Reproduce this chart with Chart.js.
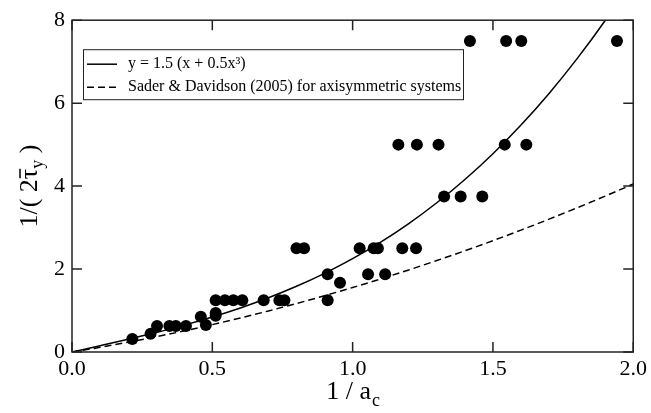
<!DOCTYPE html>
<html>
<head>
<meta charset="utf-8">
<script src="https://cdn.jsdelivr.net/npm/chart.js@4"></script>
<style>
  body { margin: 0; background: #fff; }
  #wrap { width: 651px; height: 413px; }
</style>
</head>
<body>
<div id="wrap"><canvas id="yieldChart"></canvas></div>
<script>
// Measured points: 1/a_c against 1/(2 tau_y)
const pointX = [0.215, 0.28, 0.303, 0.347, 0.37, 0.406, 0.459, 0.477, 0.512, 0.512,
                0.512, 0.545, 0.575, 0.607, 0.683, 0.739, 0.757, 0.80, 0.827, 0.911,
                0.911, 0.955, 1.025, 1.075, 1.09, 1.055, 1.116, 1.177, 1.226, 1.163,
                1.229, 1.306, 1.542, 1.619, 1.326, 1.385, 1.462, 1.418, 1.547, 1.601,
                1.942];
const pointY = [0.3125, 0.4375, 0.625, 0.625, 0.625, 0.625, 0.85, 0.65, 0.875, 0.9375,
                1.25, 1.25, 1.25, 1.25, 1.25, 1.25, 1.25, 2.5, 2.5, 1.875,
                1.25, 1.667, 2.5, 2.5, 2.5, 1.875, 1.875, 2.5, 2.5, 5,
                5, 5, 5, 5, 3.75, 3.75, 3.75, 7.5, 7.5, 7.5,
                7.5];

// Curve samples along x
const curveX = [0, 0.1, 0.2, 0.3, 0.4, 0.5, 0.6, 0.7, 0.8, 0.9, 1.0,
                1.1, 1.2, 1.3, 1.4, 1.5, 1.6, 1.7, 1.8, 1.9, 2.0];
const fitY = [0, 0.151, 0.306, 0.470, 0.648, 0.844, 1.062, 1.307, 1.584, 1.897, 2.25,
              2.648, 3.096, 3.598, 4.158, 4.781, 5.472, 6.235, 7.074, 7.994, 9.0];
const saderY = [0, 0.113, 0.236, 0.368, 0.509, 0.660, 0.820, 0.990, 1.169, 1.357, 1.555,
                1.762, 1.979, 2.205, 2.440, 2.685, 2.939, 3.203, 3.476, 3.758, 4.05];

const xTicks = [0, 0.5, 1.0, 1.5, 2.0];
const yTicks = [0, 2, 4, 6, 8];
const seriesNames = ['y = 1.5 (x + 0.5x\u00B3)', 'Sader & Davidson (2005) for axisymmetric systems'];

const serif = '"Liberation Serif", "DejaVu Serif", serif';

function toXY(xs, ys) {
    return xs.map((x, i) => ({ x: x, y: ys[i] }));
}

// Frame plus inward tick marks on all four sides
const frameTicks = {
    id: 'frameTicks',
    afterDatasetsDraw(chart) {
        const ctx = chart.ctx;
        const a = chart.chartArea;
        const xs = chart.scales.x, ys = chart.scales.y;
        const len = 10;
        ctx.save();
        ctx.strokeStyle = '#222';
        ctx.lineWidth = 1.5;
        ctx.strokeRect(a.left, a.top, a.right - a.left, a.bottom - a.top);
        ctx.beginPath();
        xTicks.forEach(v => {
            const px = xs.getPixelForValue(v);
            ctx.moveTo(px, a.bottom); ctx.lineTo(px, a.bottom - len);
            ctx.moveTo(px, a.top); ctx.lineTo(px, a.top + len);
        });
        yTicks.forEach(v => {
            const py = ys.getPixelForValue(v);
            ctx.moveTo(a.left, py); ctx.lineTo(a.left + len, py);
            ctx.moveTo(a.right, py); ctx.lineTo(a.right - len, py);
        });
        ctx.stroke();
        ctx.restore();
    }
};

// Boxed legend in the upper left corner
const boxLegend = {
    id: 'boxLegend',
    afterDatasetsDraw(chart) {
        const ctx = chart.ctx;
        const a = chart.chartArea;
        const left = a.left + 11, top = a.top + 29, w = 380, h = 50;
        ctx.save();
        ctx.fillStyle = '#fff';
        ctx.fillRect(left, top, w, h);
        ctx.strokeStyle = '#222';
        ctx.lineWidth = 1;
        ctx.strokeRect(left + 0.5, top + 0.5, w, h);
        ctx.font = '16px ' + serif;
        ctx.textBaseline = 'middle';
        ctx.fillStyle = '#000';
        [1, 2].forEach((di, row) => {
            const ds = chart.data.datasets[di];
            const y = top + 15 + row * 23;
            ctx.beginPath();
            ctx.setLineDash(ds.borderDash || []);
            ctx.lineWidth = ds.borderWidth;
            ctx.strokeStyle = ds.borderColor;
            ctx.moveTo(left + 4, y);
            ctx.lineTo(left + 34, y);
            ctx.stroke();
            ctx.setLineDash([]);
            ctx.fillText(ds.label, left + 45, y);
        });
        ctx.restore();
    }
};

// Axis titles with subscripts and the bar over tau
const axisTitles = {
    id: 'axisTitles',
    afterDraw(chart) {
        const ctx = chart.ctx;
        const a = chart.chartArea;
        ctx.save();
        ctx.fillStyle = '#000';
        ctx.textBaseline = 'alphabetic';

        // x title: 1 / a_c
        const big = '26px ' + serif, small = '18px ' + serif;
        ctx.font = big;
        const mainTxt = '1 / a';
        const w1 = ctx.measureText(mainTxt).width;
        ctx.font = small;
        const w2 = ctx.measureText('c').width;
        let x0 = (a.left + a.right) / 2 - (w1 + w2) / 2;
        ctx.font = big;
        ctx.fillText(mainTxt, x0, 399);
        ctx.font = small;
        ctx.fillText('c', x0 + w1 + 1, 406);

        // y title: 1/( 2 tau-bar_y )
        ctx.translate(37, (a.top + a.bottom) / 2);
        ctx.rotate(-Math.PI / 2);
        ctx.font = big;
        const pA = '1/( 2', pT = '\u03C4', pC = ' )';
        const wA = ctx.measureText(pA).width;
        const wT = ctx.measureText(pT).width;
        const wC = ctx.measureText(pC).width;
        ctx.font = small;
        const wY = ctx.measureText('y').width;
        let cx = -(wA + wT + wY + wC) / 2;
        ctx.font = big;
        ctx.fillText(pA, cx, 0); cx += wA;
        ctx.fillText(pT, cx, 0);
        ctx.beginPath();
        ctx.lineWidth = 1.5;
        ctx.strokeStyle = '#000';
        ctx.moveTo(cx + 1, -17);
        ctx.lineTo(cx + wT, -17);
        ctx.stroke();
        cx += wT;
        ctx.font = small;
        ctx.fillText('y', cx, 6); cx += wY;
        ctx.font = big;
        ctx.fillText(pC, cx, 0);
        ctx.restore();
    }
};

new Chart(document.getElementById('yieldChart'), {
    type: 'scatter',
    data: {
        datasets: [{
            label: 'data',
            data: toXY(pointX, pointY),
            pointRadius: 6,
            pointBackgroundColor: '#000',
            pointBorderColor: '#000',
            pointBorderWidth: 0,
            showLine: false
        }, {
            label: seriesNames[0],
            data: toXY(curveX, fitY),
            showLine: true,
            borderColor: '#000',
            borderWidth: 1.5,
            pointRadius: 0,
            tension: 0.4,
            cubicInterpolationMode: 'monotone'
        }, {
            label: seriesNames[1],
            data: toXY(curveX, saderY),
            showLine: true,
            borderColor: '#000',
            borderWidth: 1.5,
            borderDash: [7, 4],
            pointRadius: 0,
            tension: 0.4,
            cubicInterpolationMode: 'monotone'
        }]
    },
    options: {
        responsive: true,
        maintainAspectRatio: false,
        animation: false,
        layout: { padding: { top: 13, right: 14, left: 0, bottom: 0 } },
        plugins: {
            legend: { display: false },
            tooltip: { enabled: false }
        },
        scales: {
            x: {
                type: 'linear',
                min: 0,
                max: 2,
                grid: { display: false, drawTicks: false },
                border: { display: false },
                afterBuildTicks: s => { s.ticks = xTicks.map(v => ({ value: v })); },
                afterFit: s => { s.height = 61; },
                ticks: {
                    padding: 4,
                    color: '#000',
                    font: { family: serif, size: 22 },
                    callback: v => v.toFixed(1)
                }
            },
            y: {
                min: 0,
                max: 8,
                grid: { display: false, drawTicks: false },
                border: { display: false },
                afterBuildTicks: s => { s.ticks = yTicks.map(v => ({ value: v })); },
                afterFit: s => { s.width = 72; },
                ticks: {
                    padding: 7,
                    color: '#000',
                    font: { family: serif, size: 22 },
                    callback: v => String(v)
                }
            }
        }
    },
    plugins: [frameTicks, boxLegend, axisTitles]
});
</script>
</body>
</html>
